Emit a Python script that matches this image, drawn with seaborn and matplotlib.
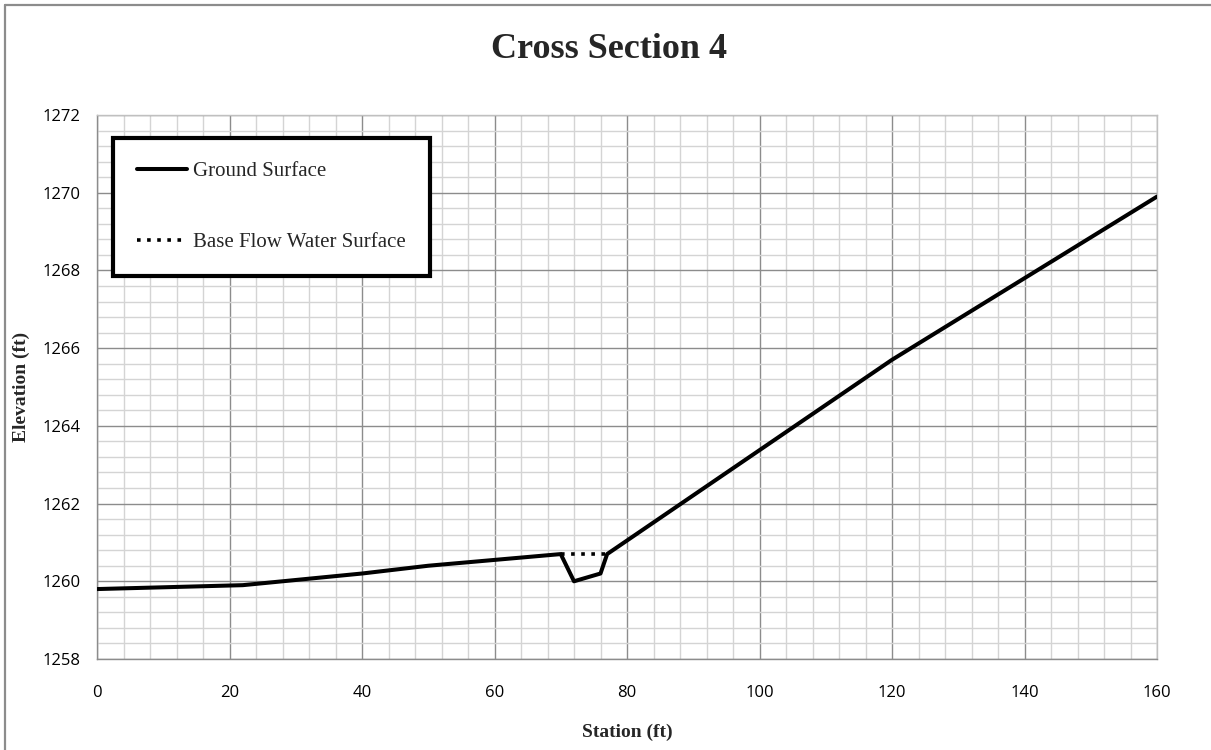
import matplotlib
matplotlib.use("Agg")
import matplotlib.pyplot as plt
import seaborn as sns
import pandas as pd
from matplotlib.ticker import MultipleLocator
from matplotlib.lines import Line2D

# Data
ground_station = [0, 22, 40, 50, 70, 72, 76, 77, 120, 160]
ground_elev = [1259.8, 1259.9, 1260.2, 1260.4, 1260.7, 1260.0, 1260.2, 1260.7, 1265.7, 1269.9]
water_station = [70, 77]
water_elev = [1260.7, 1260.7]

title = "Cross Section 4"
xlabel = "Station (ft)"
ylabel = "Elevation (ft)"
series_names = ["Ground Surface", "Base Flow Water Surface"]

sns.set_style("white")
plt.rcParams['font.family'] = ['Liberation Serif', 'DejaVu Serif']

fig = plt.figure(figsize=(12.11, 7.5), dpi=100)
ax = fig.add_axes([97/1211, 1-659/750, (1157-97)/1211, (659-115)/750])

gdf = pd.DataFrame({"Station": ground_station, "Elevation": ground_elev})
wdf = pd.DataFrame({"Station": water_station, "Elevation": water_elev})

sns.lineplot(data=gdf, x="Station", y="Elevation", ax=ax, color="black",
             lw=2.9, sort=False, label=series_names[0], zorder=4)
sns.lineplot(data=wdf, x="Station", y="Elevation", ax=ax, color="black",
             lw=2.6, sort=False, label=series_names[1], zorder=3,
             linestyle=(0, (1, 1.8)))

ax.set_xlim(0, 160)
ax.set_ylim(1258, 1272)
ax.xaxis.set_major_locator(MultipleLocator(20))
ax.xaxis.set_minor_locator(MultipleLocator(4))
ax.yaxis.set_major_locator(MultipleLocator(2))
ax.yaxis.set_minor_locator(MultipleLocator(0.4))
ax.grid(which="minor", color="#d4d4d4", lw=1.0, zorder=0)
ax.grid(which="major", color="#8c8c8c", lw=1.0, zorder=1)
ax.set_axisbelow(True)
for s in ax.spines.values():
    s.set_color("#8c8c8c")
    s.set_linewidth(1.0)
ax.spines["top"].set_color("#c0c0c0")
ax.spines["right"].set_color("#c0c0c0")

ax.tick_params(axis="both", which="both", length=0)
ax.tick_params(axis="x", pad=19)
ax.tick_params(axis="y", pad=12)
for lab in ax.get_xticklabels() + ax.get_yticklabels():
    lab.set_fontfamily(["Open Sans", "DejaVu Sans"])
    lab.set_fontsize(12)
    lab.set_color("#000000")

ax.set_xlabel(xlabel, fontsize=14, fontweight="bold", va="center")
ax.set_ylabel(ylabel, fontsize=14, fontweight="bold", va="center")
ax.yaxis.set_label_coords((21-97)/1060, 0.5)
ax.xaxis.set_label_coords(0.5, (659-732)/544)

fig.text(609/1211, 1-50/750, title, ha="center", va="center",
         fontsize=26, fontweight="bold")

leg = ax.legend(loc="upper left", bbox_to_anchor=(0.015, 0.958),
                fontsize=15, frameon=True, fancybox=False,
                borderpad=1.15, labelspacing=2.45, handlelength=2.4,
                handletextpad=0.3, borderaxespad=0)
frame = leg.get_frame()
frame.set_edgecolor("black")
frame.set_linewidth(3)
frame.set_facecolor("white")
frame.set_alpha(1)
leg.set_zorder(10)

# outer chart border (top and left visible)
fig.add_artist(Line2D([5/1211, 5/1211], [0, 1-5/750], transform=fig.transFigure,
                      color="#8c8c8c", lw=1.6))
fig.add_artist(Line2D([5/1211, 1], [1-5/750, 1-5/750], transform=fig.transFigure,
                      color="#8c8c8c", lw=1.6))

fig.savefig("out.png", dpi=100)
